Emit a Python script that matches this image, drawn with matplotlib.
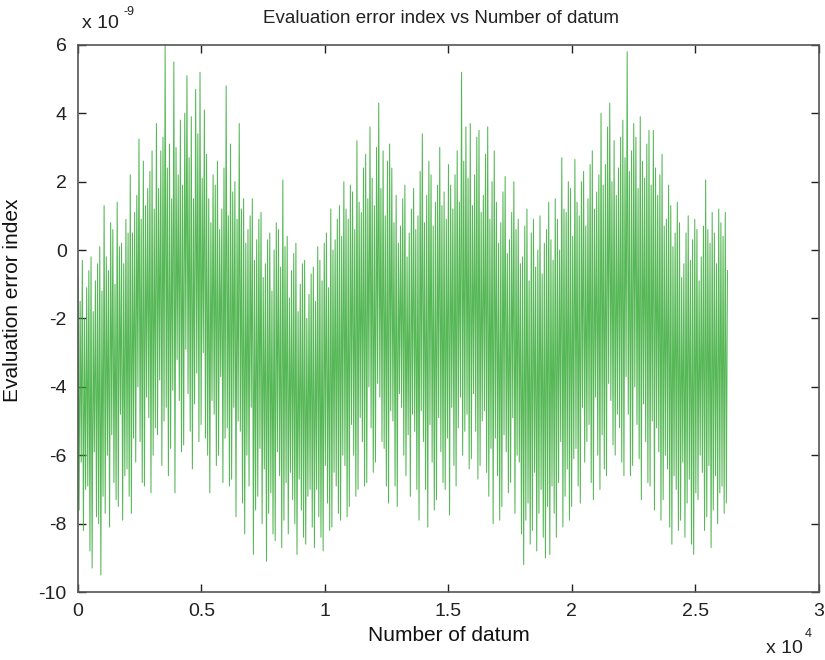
import matplotlib
matplotlib.use("Agg")
import matplotlib.pyplot as plt
import numpy as np

# error index (x 1e-9), read off the picture as alternating peak / trough values,
# one row per ~1050 datum
error_index = [
    -0.8, -7.6, -1.5, -6.2, -0.3, -8.2, -2.0, -7.0, -1.1, -6.9, -0.6, -8.8, -0.2, -9.3, -1.8, -5.9, -0.9, -7.8, -0.4, -8.0, 0.1, -9.5, -1.2, -7.2,
    1.3, -7.7, -0.2, -6.0, -0.6, -8.1, 0.8, -5.4, 0.6, -6.8, -1.0, -7.3, 1.4, -7.5, 0.1, -4.8, 0.2, -7.9, -0.4, -6.6, 0.9, -6.4, 0.5, -7.2,
    2.2, -7.7, 0.5, -5.5, 1.1, -6.2, 1.6, -4.0, 3.25, -5.6, 0.9, -6.8, 2.6, -6.9, 1.3, -4.3, 1.8, -4.9, 2.3, -7.1, 2.9, -6.0, 1.2, -5.2,
    3.7, -5.4, 1.8, -3.8, 2.9, -6.3, 3.3, -5.0, 6.0, -4.6, 2.4, -6.6, 3.1, -5.8, 1.5, -4.1, 5.5, -7.1, 3.0, -3.2, 2.2, -4.4, 3.8, -5.9,
    1.9, -5.7, 4.0, -2.9, 5.1, -4.2, 2.7, -5.3, 3.9, -6.4, 1.5, -4.5, 4.7, -3.6, 3.4, -5.6, 5.2, -5.1, 2.1, -3.0, 4.1, -5.5, 2.8, -6.0,
    1.5, -7.1, 0.8, -4.4, 2.2, -4.8, 1.9, -6.3, 2.6, -6.0, 0.6, -3.7, 1.2, -6.8, 2.4, -5.5, 4.8, -5.2, 1.0, -6.9, 3.1, -6.7, 1.7, -4.6,
    2.0, -7.8, 0.9, -5.0, 3.7, -5.3, 1.2, -7.4, 1.5, -8.3, 0.2, -6.0, 0.6, -6.9, 1.0, -4.6, 1.5, -8.9, -0.3, -7.6, 0.3, -7.2, 0.9, -5.8,
    1.1, -8.0, -0.8, -6.4, -0.4, -9.1, 0.3, -7.7, 0.5, -7.1, -1.2, -8.3, 0.0, -8.5, 0.8, -5.9, 0.6, -6.6, -0.5, -8.7, 2.05, -7.9, 0.1, -6.8,
    0.4, -8.3, -1.4, -6.5, -0.6, -7.3, -0.1, -8.0, 0.2, -8.9, -1.8, -6.7, -1.0, -7.6, -0.4, -8.4, -0.3, -8.6, -2.0, -7.2, -1.3, -7.0, -0.7, -8.1,
    -0.5, -8.7, -1.5, -7.0, 0.1, -7.8, -0.3, -8.4, -0.9, -8.8, 0.2, -6.3, 0.5, -7.4, -1.1, -8.2, 1.2, -8.1, 0.0, -6.5, 0.3, -6.9, 0.9, -7.7,
    1.3, -7.9, 0.4, -6.0, 2.0, -6.3, 1.2, -7.8, 0.9, -7.5, 1.9, -5.1, 1.7, -6.0, 0.6, -7.2, 3.2, -7.0, 1.4, -4.9, 1.1, -5.6, 2.4, -6.9,
    2.8, -6.8, 1.5, -4.0, 3.6, -5.2, 2.1, -6.5, 1.3, -6.2, 3.0, -3.9, 4.3, -4.3, 1.8, -5.6, 2.9, -5.8, 1.0, -6.9, 2.6, -7.4, 3.1, -4.7,
    2.4, -5.0, 0.8, -6.9, 1.6, -7.5, 0.2, -4.2, 0.7, -4.6, 1.5, -6.0, 1.9, -6.6, -0.2, -5.4, 0.5, -7.2, 1.2, -4.8, 1.8, -5.3, 0.6, -7.0,
    1.0, -7.9, 2.3, -4.7, 3.4, -5.6, 0.8, -7.0, 1.6, -8.1, 2.6, -5.1, 2.2, -6.2, 0.7, -7.6, 1.4, -7.3, 1.9, -4.9, 3.0, -5.9, 1.3, -6.8,
    1.7, -7.0, 0.9, -5.5, 2.5, -7.75, 1.9, -4.6, 1.2, -6.3, 2.2, -6.9, 2.9, -5.2, 1.4, -4.3, 5.2, -6.0, 2.6, -5.3, 3.6, -4.8, 2.1, -6.4,
    3.7, -6.1, 1.3, -4.2, 2.2, -5.3, 3.3, -6.7, 3.5, -6.3, 1.1, -5.0, 1.6, -4.7, 2.8, -6.5, 3.6, -7.2, 0.9, -5.8, 2.0, -8.0, 2.9, -5.5,
    1.4, -6.6, 0.2, -7.9, 0.8, -7.5, 1.7, -5.4, 2.15, -5.9, -0.1, -7.1, 0.3, -6.8, 1.1, -4.9, 2.0, -7.7, 0.6, -6.0, 0.9, -6.2, -0.4, -8.3,
    -0.2, -9.2, 0.7, -7.9, 1.2, -7.4, -0.9, -8.6, 0.5, -8.2, 0.9, -6.5, -0.5, -8.8, 0.0, -7.7, 1.0, -7.0, -0.7, -8.4, 0.2, -9.0, 0.6, -7.5,
    1.4, -8.9, 0.3, -6.9, -0.3, -7.7, 1.5, -8.4, 0.9, -6.8, 0.0, -5.6, 2.7, -8.1, 1.2, -7.2, 1.1, -6.4, 2.0, -7.9, 1.8, -7.5, 0.4, -6.1,
    2.65, -5.8, 1.4, -6.9, 1.0, -7.4, 2.0, -4.6, 2.3, -6.2, 0.7, -5.6, 1.5, -5.1, 2.5, -6.8, 2.9, -7.3, 1.2, -4.3, 1.7, -6.0, 2.2, -7.0,
    4.0, -5.4, 1.9, -6.4, 2.5, -6.6, 3.6, -3.9, 4.3, -4.4, 2.0, -5.7, 3.2, -6.0, 1.6, -4.8, 2.4, -5.2, 3.3, -6.2, 3.8, -6.6, 2.7, -3.7,
    5.8, -4.8, 2.3, -6.6, 2.9, -6.3, 3.7, -4.0, 3.3, -5.1, 1.8, -6.1, 3.9, -7.3, 2.6, -4.5, 2.1, -5.6, 3.1, -6.8, 3.5, -6.9, 1.9, -5.0,
    3.5, -7.6, 2.4, -5.2, 1.6, -5.9, 2.2, -7.9, 2.8, -7.3, 0.7, -6.0, 0.9, -6.4, 1.9, -8.1, 1.3, -8.6, 0.1, -6.6, 0.5, -7.0, 1.4, -8.2,
    0.8, -7.9, -0.8, -6.2, -0.4, -8.4, 0.5, -7.4, 1.0, -6.7, -0.3, -8.6, 0.3, -8.9, 0.9, -7.1, 0.6, -7.3, -0.9, -6.0, -0.2, -6.5, 0.7, -8.2,
    2.05, -7.8, 0.6, -6.3, 0.2, -8.7, 1.1, -7.6, 0.5, -6.6, -0.4, -8.0, 1.2, -7.1, 0.8, -6.9, 0.4, -7.7, 1.1, -7.4, -0.6,
]
n_datum = 26300

x_ticks = [0, 5000, 10000, 15000, 20000, 25000, 30000]
x_tick_labels = ["0", "0.5", "1", "1.5", "2", "2.5", "3"]
y_ticks = [-10, -8, -6, -4, -2, 0, 2, 4, 6]

plt.rcParams['font.family'] = ['Liberation Sans', 'DejaVu Sans']
plt.rcParams['axes.unicode_minus'] = False

datum = np.linspace(0, n_datum, len(error_index))

fig = plt.figure(figsize=(8.25, 6.6), dpi=100)
ax = fig.add_axes([0.0945, 0.103, 0.898, 0.829])
ax.plot(datum, error_index, color="#38ab38", linewidth=0.75, alpha=0.85)

ax.set_xlim(0, 30000)
ax.set_ylim(-10, 6)
ax.set_xticks(x_ticks)
ax.set_xticklabels(x_tick_labels)
ax.set_yticks(y_ticks)
ax.tick_params(direction="in", length=6, width=1, labelsize=14, colors="#222222",
               top=True, right=True, pad=8)
for side in ax.spines:
    ax.spines[side].set_color("#555555")
    ax.spines[side].set_linewidth(1.2)

ax.set_title("Evaluation error index vs Number of datum", fontsize=13.5, color="#222222",
             pad=16, x=0.49)
ax.set_xlabel("Number of datum", fontsize=15, color="#111111", labelpad=4)
ax.set_ylabel("Evaluation error index", fontsize=15, color="#111111")
ax.yaxis.set_label_coords(-0.0756, 0.534)

# multipliers drawn MATLAB-style with a plain hyphen in the exponent
fig.text(0.099, 0.952, "x 10", fontsize=14, color="#222222", ha="left", va="bottom")
fig.text(0.150, 0.972, "-9", fontsize=9, color="#222222", ha="left", va="bottom")
fig.text(0.928, 0.005, "x 10", fontsize=14, color="#222222", ha="left", va="bottom")
fig.text(0.975, 0.030, "4", fontsize=9, color="#222222", ha="left", va="bottom")

fig.savefig("out.png", dpi=100)
